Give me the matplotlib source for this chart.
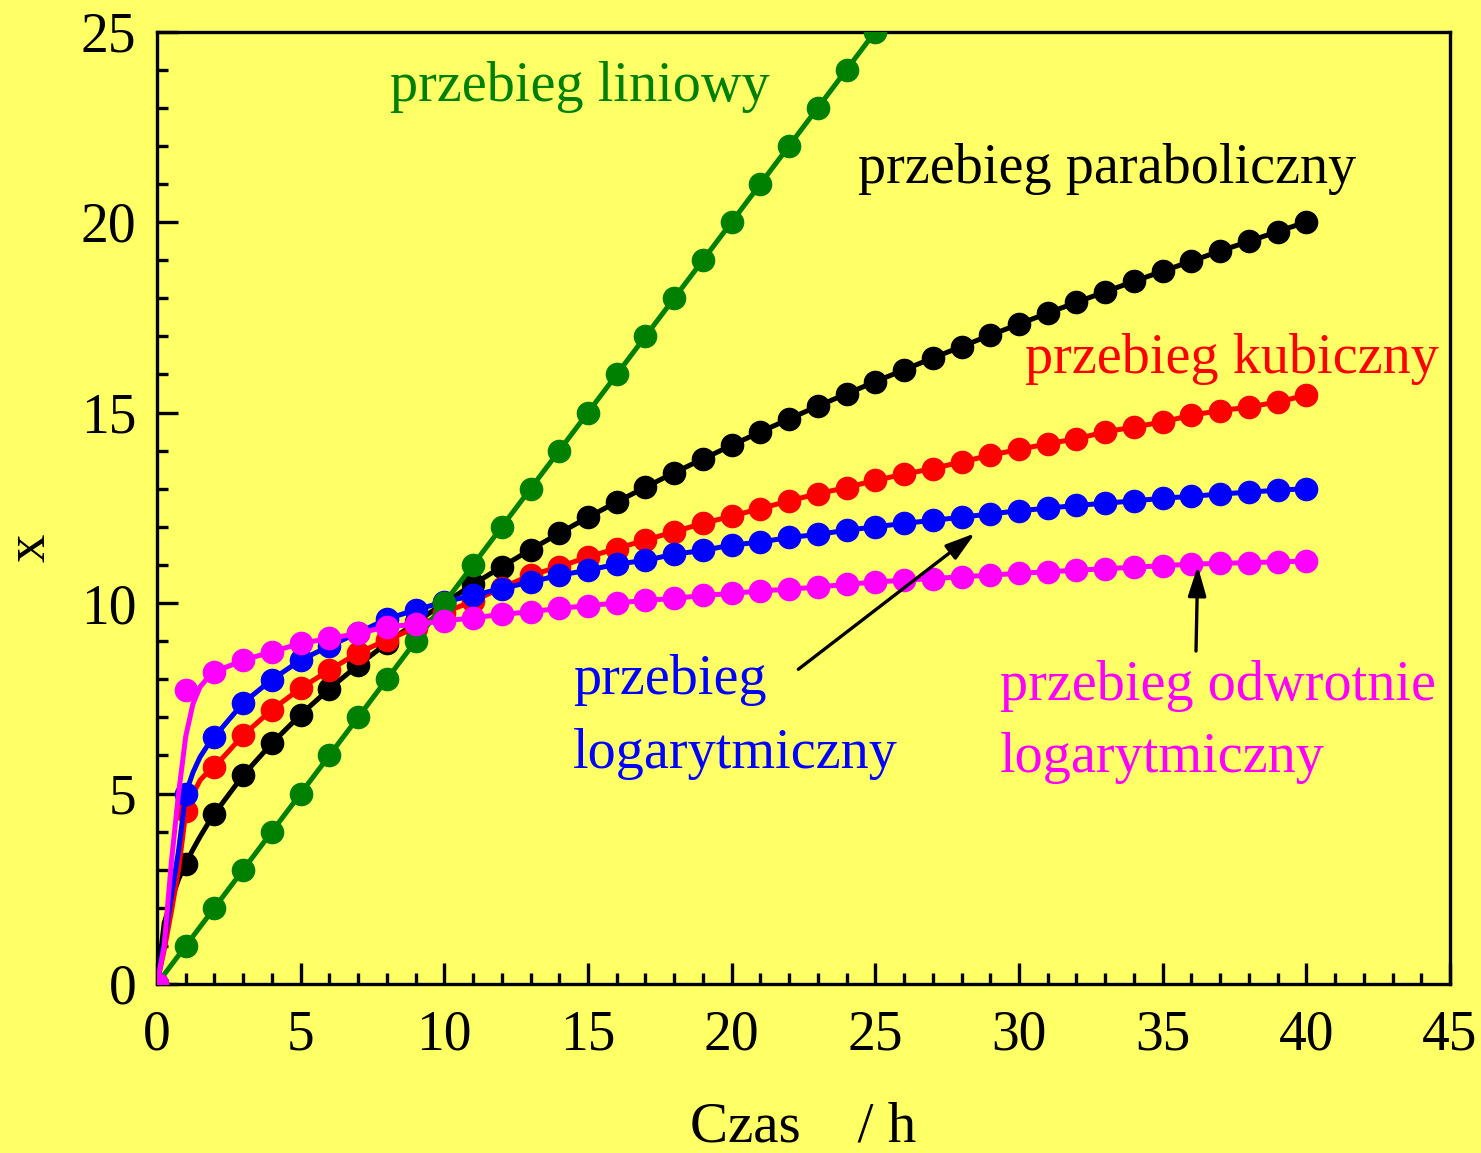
import numpy as np
import matplotlib.pyplot as plt

plt.rcParams['font.family'] = ['Liberation Serif', 'DejaVu Serif']

# czas pomiaru (h) i odczytane wartosci x
czas = np.arange(0, 41)
czas_lin = np.arange(0, 26)

x_liniowy = [0, 1.0, 2.0, 3.0, 4.0, 5.0, 6.0, 7.0, 8.0, 9.0, 10.0, 11.0, 12.0,
             13.0, 14.0, 15.0, 16.0, 17.0, 18.0, 19.0, 20.0, 21.0, 22.0, 23.0,
             24.0, 25.0]
x_paraboliczny = [0, 3.16, 4.47, 5.48, 6.32, 7.07, 7.75, 8.37, 8.94, 9.49, 10.0,
                  10.49, 10.95, 11.40, 11.83, 12.25, 12.65, 13.04, 13.42, 13.78,
                  14.14, 14.49, 14.83, 15.17, 15.49, 15.81, 16.12, 16.43, 16.73,
                  17.03, 17.32, 17.61, 17.89, 18.17, 18.44, 18.71, 18.97, 19.24,
                  19.49, 19.75, 20.0]
x_kubiczny = [0, 4.55, 5.70, 6.53, 7.20, 7.76, 8.24, 8.69, 9.03, 9.35, 9.75,
              10.05, 10.40, 10.73, 10.95, 11.21, 11.43, 11.65, 11.87, 12.09,
              12.28, 12.48, 12.68, 12.87, 13.03, 13.22, 13.38, 13.53, 13.70,
              13.88, 14.03, 14.18, 14.31, 14.49, 14.62, 14.75, 14.93, 15.05,
              15.14, 15.28, 15.45]
x_log = [0, 5.0, 6.49, 7.38, 7.99, 8.50, 8.87, 9.22, 9.58, 9.82, 10.03, 10.20,
         10.38, 10.55, 10.73, 10.86, 11.02, 11.12, 11.28, 11.38, 11.52, 11.60,
         11.72, 11.80, 11.91, 12.0, 12.09, 12.17, 12.25, 12.34, 12.42, 12.49,
         12.56, 12.62, 12.68, 12.75, 12.80, 12.86, 12.91, 12.96, 13.0]
x_odwr_log = [0, 7.71, 8.19, 8.50, 8.72, 8.94, 9.07, 9.20, 9.38, 9.44, 9.53,
              9.61, 9.70, 9.77, 9.86, 9.93, 10.0, 10.07, 10.12, 10.20, 10.25,
              10.32, 10.36, 10.42, 10.49, 10.55, 10.60, 10.64, 10.69, 10.73,
              10.78, 10.82, 10.86, 10.90, 10.94, 10.98, 11.02, 11.04, 11.06,
              11.08, 11.10]

# poczatek krzywych dopasowania (0 - 1.75 h)
czas_pocz = [0, 0.25, 0.5, 0.75, 1.0, 1.25, 1.5, 1.75]
pocz_paraboliczny = [0, 1.6, 2.2, 2.75, 3.16, 3.53, 3.87, 4.18]
pocz_kubiczny = [0, 0.9, 1.9, 3.0, 4.5, 4.98, 5.35, 5.55]
pocz_log = [0, 1.1, 2.3, 3.5, 5.0, 5.55, 5.96, 6.25]
pocz_odwr_log = [0, 1.0, 3.2, 5.0, 6.5, 7.35, 7.8, 8.02]

zolty = '#FFFF66'
fig = plt.figure(figsize=(14.81, 11.53), dpi=100, facecolor=zolty)
ax = fig.add_axes([157 / 1481, 1 - 984 / 1153, 1293 / 1481, 952.5 / 1153])
ax.set_facecolor(zolty)

lw = 3.6
ms = 16


def rysuj(y, pocz, kolor, z):
    y = np.asarray(y)
    tl = np.concatenate([czas_pocz, czas[2:]])
    yl = np.concatenate([pocz, y[2:]])
    ax.plot(tl, yl, color=kolor, lw=lw, zorder=z)
    ax.plot(czas, y, 'o', color=kolor, ms=ms, zorder=z)


rysuj(x_paraboliczny, pocz_paraboliczny, 'black', 2)
rysuj(x_kubiczny, pocz_kubiczny, 'red', 3)
rysuj(x_log, pocz_log, 'blue', 4)
ax.plot(czas_lin, x_liniowy, '-o', color='#008000', lw=lw, ms=ms, zorder=5)
rysuj(x_odwr_log, pocz_odwr_log, '#FF00FF', 6)

ax.set_xlim(0, 45)
ax.set_ylim(0, 25)
ax.set_xticks(np.arange(0, 46, 5))
ax.set_yticks(np.arange(0, 26, 5))
ax.set_xticks(np.arange(0, 46, 1), minor=True)
ax.set_yticks(np.arange(0, 26, 1), minor=True)
ax.tick_params(which='both', direction='in', width=2.4, top=False, right=False)
ax.tick_params(which='major', length=15, labelsize=40)
ax.tick_params(axis='x', which='major', pad=18)
ax.tick_params(axis='y', which='major', pad=15)
ax.tick_params(which='minor', length=8)
for s in ax.spines.values():
    s.set_linewidth(2.4)

ax.set_xlabel('Czas    / h', fontsize=41)
ax.xaxis.set_label_coords(0.5, -0.123)
ax.set_ylabel('x', fontsize=41)
ax.yaxis.set_label_coords(-0.078, 0.458)

fs = 40.5
ax.text(8.1, 23.18, 'przebieg liniowy', color='#008000', fontsize=fs, va='baseline')
ax.text(24.4, 21.02, 'przebieg paraboliczny', color='black', fontsize=fs, va='baseline')
ax.text(30.2, 16.04, 'przebieg kubiczny', color='red', fontsize=fs, va='baseline')
ax.text(14.48, 7.61, 'przebieg', color='blue', fontsize=fs, va='baseline')
ax.text(14.48, 5.68, 'logarytmiczny', color='blue', fontsize=fs, va='baseline')
ax.text(29.34, 7.45, 'przebieg odwrotnie', color='#FF00FF', fontsize=fs, va='baseline')
ax.text(29.34, 5.56, 'logarytmiczny', color='#FF00FF', fontsize=fs, va='baseline')

strzalka = dict(arrowstyle='-|>,head_length=1.8,head_width=0.55', color='black',
                lw=2.4, shrinkA=0, shrinkB=0)
ax.annotate('', xy=(28.47, 11.83), xytext=(22.32, 8.26), arrowprops=strzalka, zorder=7)
ax.annotate('', xy=(36.22, 10.97), xytext=(36.16, 8.74), arrowprops=strzalka, zorder=7)

fig.savefig('out.png', dpi=100, facecolor=zolty)
